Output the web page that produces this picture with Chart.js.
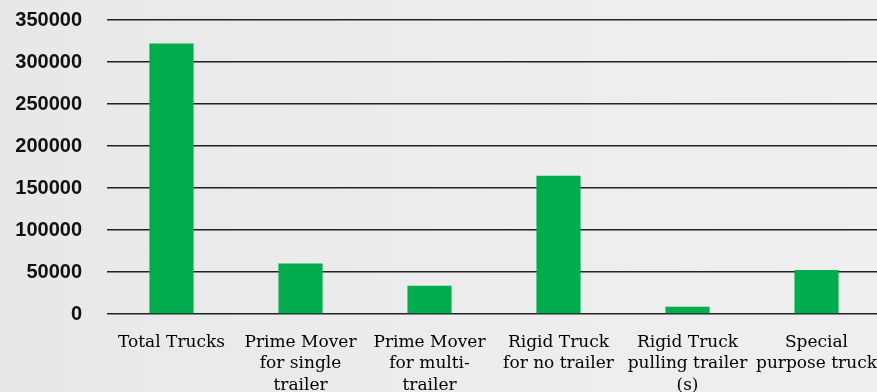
<!DOCTYPE html>
<html>
<head>
<meta charset="utf-8">
<script src="https://cdn.jsdelivr.net/npm/chart.js@4"></script>
<style>
  html, body { margin: 0; padding: 0; overflow: hidden; width: 877px; height: 392px;
    background: linear-gradient(90deg, #e8e8e9 0%, #ececed 50%, #efefef 100%); }
  #wrap { position: absolute; left: 0; top: 0; width: 881px; height: 397px; }
</style>
</head>
<body>
<div id="wrap"><canvas id="c"></canvas></div>
<script>
const categories = [
  ['Total Trucks'],
  ['Prime Mover', 'for single', 'trailer'],
  ['Prime Mover', 'for multi-', 'trailer'],
  ['Rigid Truck', 'for no trailer'],
  ['Rigid Truck', 'pulling trailer', '(s)'],
  ['Special', 'purpose truck']
];
const trucks = [322000, 60000, 33500, 164500, 8500, 52500];
const yTicks = [0, 50000, 100000, 150000, 200000, 250000, 300000, 350000];

new Chart(document.getElementById('c'), {
  type: 'bar',
  data: {
    labels: categories,
    datasets: [{
      data: trucks,
      backgroundColor: '#00ad4e',
      borderWidth: 0,
      categoryPercentage: 1,
      barPercentage: 0.342
    }]
  },
  options: {
    responsive: true,
    maintainAspectRatio: false,
    animation: false,
    layout: { padding: { left: 0, top: 20, right: 0, bottom: 0 } },
    plugins: { legend: { display: false }, tooltip: { enabled: false } },
    scales: {
      x: {
        grid: { display: false, drawTicks: false },
        border: { display: false },
        afterFit: (s) => { s.height = 83; s.paddingLeft = 0; s.paddingRight = 0; },
        ticks: {
          color: '#000',
          font: { family: 'DejaVu Serif', size: 17, lineHeight: 1.25 },
          padding: 18,
          maxRotation: 0,
          autoSkip: false
        }
      },
      y: {
        min: 0,
        max: 350000,
        afterBuildTicks: (s) => { s.ticks = yTicks.map(v => ({ value: v })); },
        afterFit: (s) => { s.width = 107; s.paddingTop = 0; s.paddingBottom = 0; },
        grid: { color: '#222', lineWidth: 1.5, drawTicks: false },
        border: { display: false },
        ticks: {
          color: '#111',
          font: { family: 'Liberation Sans', size: 20, weight: 'bold' },
          padding: 25,
          callback: (v) => String(v)
        }
      }
    }
  }
});
</script>
</body>
</html>
